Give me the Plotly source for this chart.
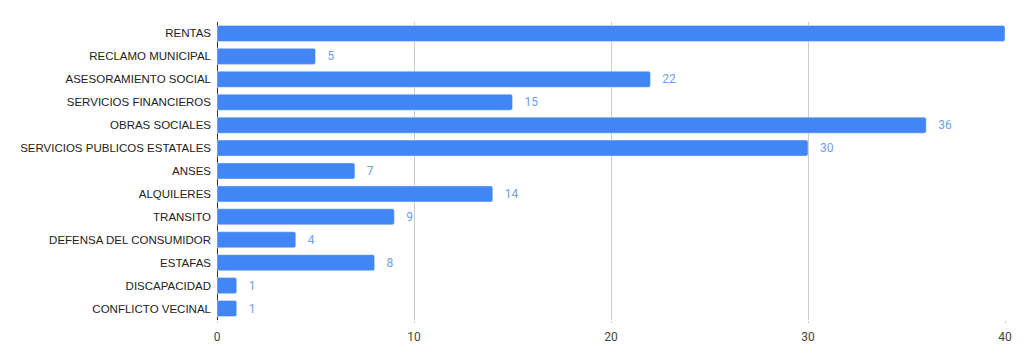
import plotly.graph_objects as go

categories = ["RENTAS", "RECLAMO MUNICIPAL", "ASESORAMIENTO SOCIAL", "SERVICIOS FINANCIEROS",
              "OBRAS SOCIALES", "SERVICIOS PUBLICOS ESTATALES", "ANSES", "ALQUILERES",
              "TRANSITO", "DEFENSA DEL CONSUMIDOR", "ESTAFAS", "DISCAPACIDAD", "CONFLICTO VECINAL"]
values = [40, 5, 22, 15, 36, 30, 7, 14, 9, 4, 8, 1, 1]
tick_vals = [0, 10, 20, 30, 40]

fig = go.Figure(go.Bar(
    y=categories, x=values, orientation="h",
    marker=dict(color="#4285F4", cornerradius=2),
    text=values, texttemplate="   %{x}", textposition="outside",
    textfont=dict(color="#6C9EF2", size=12, family="Roboto"),
    cliponaxis=False,
))

fig.update_layout(
    width=1016, height=355,
    margin=dict(l=209, r=19, t=14, b=43),
    plot_bgcolor="white", paper_bgcolor="white",
    bargap=0.3, showlegend=False,
    font=dict(family="Arial, Liberation Sans", size=11.5, color="#222222"),
)
fig.update_yaxes(autorange="reversed", showgrid=False, ticks="", ticklabelstandoff=5,
                 tickfont=dict(size=11.5, color="#222222"), showline=False, automargin=False)
fig.update_xaxes(range=[0, 40], tickvals=tick_vals, showgrid=True, gridcolor="#CCCCCC",
                 zeroline=True, zerolinecolor="#333333", zerolinewidth=1,
                 tickfont=dict(size=12, color="#444444", family="Roboto"), ticks="outside", ticklen=2,
                 tickcolor="#CCCCCC", ticklabelstandoff=4, automargin=False)

fig.write_html("out.html")
